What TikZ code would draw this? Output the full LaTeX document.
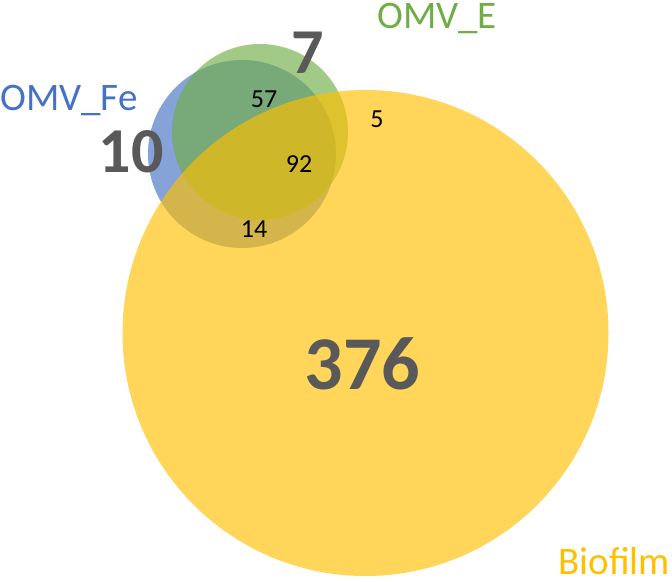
\documentclass[tikz,border=0pt]{standalone}
\usepackage{fontspec}
\setmainfont{Carlito}
\definecolor{vblue}{HTML}{4472C4}
\definecolor{vgreen}{HTML}{70AD47}
\definecolor{vgold}{HTML}{FFC000}
\definecolor{vgray}{HTML}{595959}
\begin{document}
\begin{tikzpicture}[x=1pt,y=-1pt,
  setcirc/.style={fill opacity=0.65, draw=none},
  biglab/.style={font=\fontsize{39}{39}\selectfont, inner sep=0pt},
  bignum/.style={font=\fontsize{64}{64}\selectfont\bfseries, text=vgray, inner sep=0pt},
  smallnum/.style={font=\fontsize{26}{26}\selectfont, text=black, inner sep=0pt}]
\useasboundingbox (0,0) rectangle (672,581);
\fill[setcirc, vblue] (242,154) circle (94);
\fill[setcirc, vgreen] (260,132) circle (88);
\fill[setcirc, vgold] (365.5,333) circle (243);
\node[biglab, text=vblue, anchor=base west] (lfe) at (0,110) {OMV\_Fe};
\node[biglab, text=vgreen, anchor=base west] (le) at (377,28) {OMV\_E};
\node[biglab, text=vgold, anchor=base east] (lb) at (670,574) {Biofilm};
\node[bignum, anchor=base] (n10) at (131,172) {10};
\node[bignum, anchor=base] (n7) at (308,73) {7};
\node[bignum, anchor=base, font=\fontsize{76}{76}\selectfont\bfseries] (n376) at (362.5,389) {376};
\node[smallnum, anchor=base] (n57) at (264,107) {57};
\node[smallnum, anchor=base] (n92) at (299,172) {92};
\node[smallnum, anchor=base] (n14) at (254,237) {14};
\node[smallnum, anchor=base] (n5) at (377,127) {5};
\end{tikzpicture}
\end{document}
